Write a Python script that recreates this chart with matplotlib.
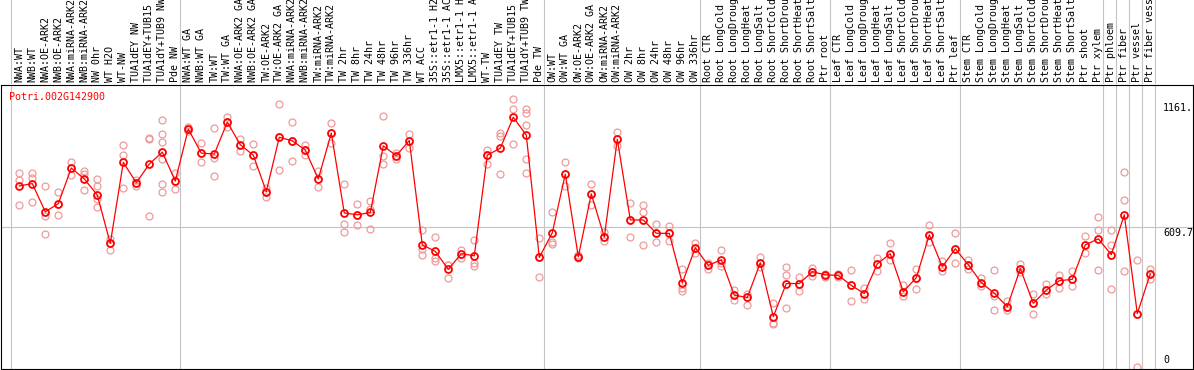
import numpy as np
import matplotlib
matplotlib.use('Agg')
import matplotlib.pyplot as plt

# sample names (one column each)
samples = ['NWA:WT', 'NWB:WT', 'NWA:OE-ARK2', 'NWB:OE-ARK2', 'NWA:miRNA-ARK2',
           'NWB:miRNA-ARK2', 'NW 0hr', 'WT H2O', 'WT-NW', 'TUA1dEY NW',
           'TUA1dEY+TUB15 NW', 'TUA1dY+TUB9 NW', 'Pde NW',
           'NWA:WT GA', 'NWB:WT GA', 'TW:WT', 'TW:WT GA', 'NWA:OE-ARK2 GA',
           'NWB:OE-ARK2 GA', 'TW:OE-ARK2', 'TW:OE-ARK2 GA', 'NWA:miRNA-ARK2 GA',
           'NWB:miRNA-ARK2 GA', 'TW:miRNA-ARK2', 'TW:miRNA-ARK2 GA', 'TW 2hr',
           'TW 8hr', 'TW 24hr', 'TW 48hr', 'TW 96hr', 'TW 336hr', 'WT ACC',
           '35S::etr1-1 H2O', '35S::etr1-1 ACC', 'LMX5::etr1-1 H2O',
           'LMX5::etr1-1 ACC', 'WT-TW', 'TUA1dEY TW', 'TUA1dEY+TUB15 TW',
           'TUA1dY+TUB9 TW', 'Pde TW',
           'OW:WT', 'OW:WT GA', 'OW:OE-ARK2', 'OW:OE-ARK2 GA', 'OW:miRNA-ARK2',
           'OW:miRNA-ARK2 GA', 'OW 2hr', 'OW 8hr', 'OW 24hr', 'OW 48hr',
           'OW 96hr', 'OW 336hr',
           'Root CTR', 'Root LongCold', 'Root LongDrought', 'Root LongHeat',
           'Root LongSalt', 'Root ShortCold', 'Root ShortDrought',
           'Root ShortHeat', 'Root ShortSalt', 'Ptr root',
           'Leaf CTR', 'Leaf LongCold', 'Leaf LongDrought', 'Leaf LongHeat',
           'Leaf LongSalt', 'Leaf ShortCold', 'Leaf ShortDrought',
           'Leaf ShortHeat', 'Leaf ShortSalt', 'Ptr leaf',
           'Stem CTR', 'Stem LongCold', 'Stem LongDrought', 'Stem LongHeat',
           'Stem LongSalt', 'Stem ShortCold', 'Stem ShortDrought',
           'Stem ShortHeat', 'Stem ShortSalt', 'Ptr shoot', 'Ptr xylem',
           'Ptr phloem', 'Ptr fiber', 'Ptr vessel', 'Ptr fiber vessel']

# first column of each block (gray separators)
group_starts = [0, 13, 41, 53, 63, 73, 84, 85, 86, 87, 88]

# mean expression per sample
means = [786, 796, 675, 710, 863, 816, 747, 539, 887, 800,
         880, 931, 807, 1030, 927, 923, 1060, 963, 918, 762,
         995, 980, 940, 816, 1013, 670, 662, 672, 958, 916,
         981, 533, 505, 428, 495, 486, 918, 948, 1081, 1004,
         479, 585, 837, 482, 752, 566, 987, 640, 640, 583,
         582, 369, 521, 445, 469, 317, 307, 456, 225, 367,
         367, 418, 404, 402, 359, 324, 452, 495, 332, 392,
         576, 439, 516, 448, 371, 325, 267, 431, 282, 339,
         379, 385, 533, 559, 491, 662, 238, 409]

# replicate values per sample
reps = [[841, 813, 705], [841, 820, 717], [786, 656, 580], [760, 710, 663],
        [888, 863, 834], [851, 837, 769], [817, 784, 730, 695], [559, 539, 511],
        [961, 918, 777], [810, 800, 787], [991, 987, 657],
        [1068, 1008, 974, 901, 794, 760], [841, 807, 773],
        [1041, 1030, 1020], [971, 927, 888], [1034, 908, 830], [1080, 1060, 1037],
        [988, 963, 937], [966, 918, 873], [777, 762, 740], [1138, 995, 854],
        [1060, 980, 893], [963, 940, 917], [851, 816, 782], [1055, 1013, 970],
        [796, 623, 589], [710, 662, 620], [723, 689, 603], [1085, 913, 880],
        [927, 916, 903], [1010, 981, 951], [595, 516, 491], [568, 478, 464],
        [445, 445, 392], [511, 495, 478], [556, 456, 442], [940, 918, 881],
        [1015, 1001, 837], [1161, 1115, 966], [1117, 1098, 1048, 903, 841],
        [563, 479, 394],
        [672, 545, 538], [888, 837, 784], [490, 482, 475], [794, 752, 706],
        [588, 566, 549], [1017, 987, 956], [713, 640, 566], [705, 675, 533],
        [623, 583, 546], [616, 582, 549], [431, 347, 335], [541, 521, 496],
        [456, 445, 428], [513, 455, 442], [338, 317, 295], [324, 307, 275],
        [482, 456, 438], [284, 198, 193], [438, 404, 264], [395, 367, 337],
        [435, 418, 399], [410, 404, 397],
        [410, 402, 395], [426, 359, 290], [347, 324, 302], [478, 452, 421],
        [543, 495, 466], [361, 332, 314], [431, 392, 345], [620, 576, 546],
        [464, 439, 421], [582, 516, 456],
        [468, 448, 431], [389, 371, 357], [424, 312, 255], [290, 267, 254],
        [449, 431, 418], [321, 282, 238], [367, 339, 321], [404, 379, 349],
        [419, 385, 358], [572, 533, 496], [653, 598, 426],
        [598, 533, 345], [846, 726, 419], [469, 238, 10], [431, 409, 385]]

gene = 'Potri.002G142900'
ymax_label = 1161
ytop = 1219.4

W, H = 1194, 370
fig = plt.figure(figsize=(W / 100, H / 100), dpi=100)
mono = 'DejaVu Sans Mono'
fs = 7.2

x = np.arange(len(samples))
xlo, xhi = (1 - 19.3) / 13, (1193 - 19.3) / 13

# main plot area
ax = fig.add_axes([1 / W, 1 / H, 1192 / W, 284 / H])
ax.set_xlim(xlo, xhi)
ax.set_ylim(0, ytop)
ax.set_xticks([])
ax.set_yticks([])
for s in ax.spines.values():
    s.set_linewidth(0.8)
    s.set_color('black')

# label strip on top
lab = fig.add_axes([1 / W, 286 / H, 1192 / W, 84 / H])
lab.set_xlim(xlo, xhi)
lab.set_ylim(0, 84)
lab.axis('off')

seps = [g - 0.62 for g in group_starts]
for a in (ax, lab):
    for s in seps:
        a.axvline(s, color='#c4c4c4', lw=0.8, zorder=0)
ax.axhline(ytop / 2, color='#c4c4c4', lw=0.8, zorder=0)

for i, name in enumerate(samples):
    lab.text(i, 2, name, rotation=90, ha='center', va='bottom',
             family=mono, fontsize=fs, color='black', clip_on=False)

# replicates
for i, r in enumerate(reps):
    ax.plot([i] * len(r), r, 'o', ms=5, mfc='none', mec='#ee9a9a', mew=0.9,
            zorder=2, clip_on=False)

ax.plot(x, means, '-', color='red', lw=0.9, zorder=3)
ax.plot(x, means, 'o', ms=5, mfc='none', mec='red', mew=1.3, zorder=4)

# gene name, top left of the plot
ax.annotate(gene, xy=(8 / 1192, 1.0), xycoords='axes fraction',
            xytext=(0, -12), textcoords='offset pixels', color='red',
            family=mono, fontsize=fs, ha='left', va='center')

# value labels on the right
yt = ax.get_yaxis_transform()
ax.annotate('%d.' % ymax_label, xy=(0.975, ymax_label), xycoords=yt,
            xytext=(0, -4), textcoords='offset pixels', va='top', ha='left',
            family=mono, fontsize=fs)
ax.annotate('%.1f' % (ytop / 2), xy=(0.975, ytop / 2), xycoords=yt,
            xytext=(0, -1), textcoords='offset pixels', va='top', ha='left',
            family=mono, fontsize=fs)
ax.annotate('0', xy=(0.975, 0), xycoords=yt,
            xytext=(0, 4), textcoords='offset pixels', va='bottom', ha='left',
            family=mono, fontsize=fs)

fig.savefig('out.png', dpi=100)
